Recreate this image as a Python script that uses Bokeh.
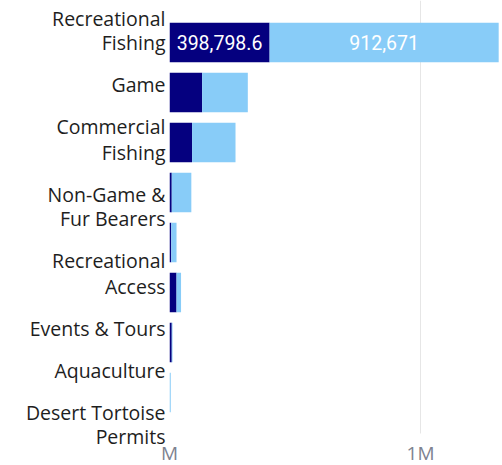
from bokeh.plotting import figure
from bokeh.models import (ColumnDataSource, Range1d, LinearAxis, FixedTicker)
from bokeh.core.properties import value
from bokeh.embed import file_html
from bokeh.resources import INLINE

# ---- data ----
categories = ["Recreational\nFishing", "Game", "Commercial\nFishing",
              "Non-Game &\nFur Bearers", "Recreational\nAccess",
              "Events & Tours", "Aquaculture", "Desert Tortoise\nPermits"]
series_dark = [398798.6, 130000, 90000, 9000, 7000, 28000, 9000, 0]
series_light = [912671, 182000, 173000, 78000, 21000, 18000, 3000, 5000]
x_ticks = [0, 1000000]
x_tick_labels = ["M", "1M"]

DARK = "#05007F"
LIGHT = "#88CCF8"

# ---- layout (pixels) ----
FRAME_W, FRAME_H = 331, 439
BAND = 50.0          # px per category
FIRST = 42.0         # px from top to first bar centre
GRID_END = 433       # gridlines stop here
PX_PER_M = 251.0

n = len(categories)
idx = list(range(n))
src = ColumnDataSource(dict(y=idx, dark=series_dark, light=series_light))

y_top = -FIRST / BAND
y_bot = y_top + FRAME_H / BAND
p = figure(frame_width=FRAME_W, frame_height=FRAME_H,
           output_backend="svg", toolbar_location=None,
           x_range=Range1d(0, FRAME_W / PX_PER_M * 1e6),
           y_range=Range1d(y_bot, y_top),
           y_axis_location=None, min_border_left=169, min_border_right=0,
           min_border_top=0, min_border_bottom=0)
p.outline_line_color = None
p.background_fill_color = "white"
p.border_fill_color = "white"

p.hbar_stack(["dark", "light"], y="y", height=0.79, color=[DARK, LIGHT],
             line_color=None, source=src)

# data labels where the segment is wide enough
lx, ly, lt = [], [], []
for i in idx:
    d, l = series_dark[i], series_light[i]
    for start, v in ((0, d), (d, l)):
        if v > 250000:
            lx.append(start + v / 2)
            ly.append(i)
            lt.append(f"{v:,.1f}".rstrip("0").rstrip("."))
p.text(x=lx, y=ly, text=lt, text_align="center", text_baseline="middle",
       text_color="white", text_font=value("Roboto"), text_font_size="19.5px")

# x axis
xa = p.xaxis[0]
xa.ticker = FixedTicker(ticks=x_ticks)
xa.major_label_overrides = {t: s for t, s in zip(x_ticks, x_tick_labels)}
xa.axis_line_color = None
xa.major_tick_line_color = None
xa.minor_tick_line_color = None
xa.major_tick_out = 0
xa.major_tick_in = 0
xa.major_label_text_font = "Open Sans"
xa.major_label_text_font_size = "19px"
xa.major_label_text_color = "#7D8290"
xa.major_label_standoff = 0

p.xgrid.ticker = FixedTicker(ticks=x_ticks)
p.xgrid.grid_line_color = "#E6E6E6"
p.xgrid.cross_bounds = (y_top, y_top + GRID_END / BAND)
p.ygrid.grid_line_color = None

# category labels, one tick per text line, stacked as in the reference
LINE, CAP, GAP = 25, 15, 27
line_pos, line_txt, top = [], [], 10
for c in categories:
    parts = c.split("\n")
    for k, part in enumerate(parts):
        line_pos.append(round(top + CAP / 2 + LINE * k))
        line_txt.append(part)
    top += CAP + LINE * (len(parts) - 1) + GAP
p.extra_y_ranges = {"lab": Range1d(FRAME_H, 0)}
ya = LinearAxis(y_range_name="lab", ticker=FixedTicker(ticks=line_pos))
ya.major_label_overrides = {t: s for t, s in zip(line_pos, line_txt)}
ya.axis_line_color = None
ya.major_tick_line_color = None
ya.minor_tick_line_color = None
ya.major_tick_out = 0
ya.major_tick_in = 0
ya.major_label_text_font = "Open Sans"
ya.major_label_text_font_size = "19.5px"
ya.major_label_text_color = "#1E1E1E"
ya.major_label_standoff = 4
p.add_layout(ya, "left")

open("out.html", "w").write(file_html(p, INLINE))
